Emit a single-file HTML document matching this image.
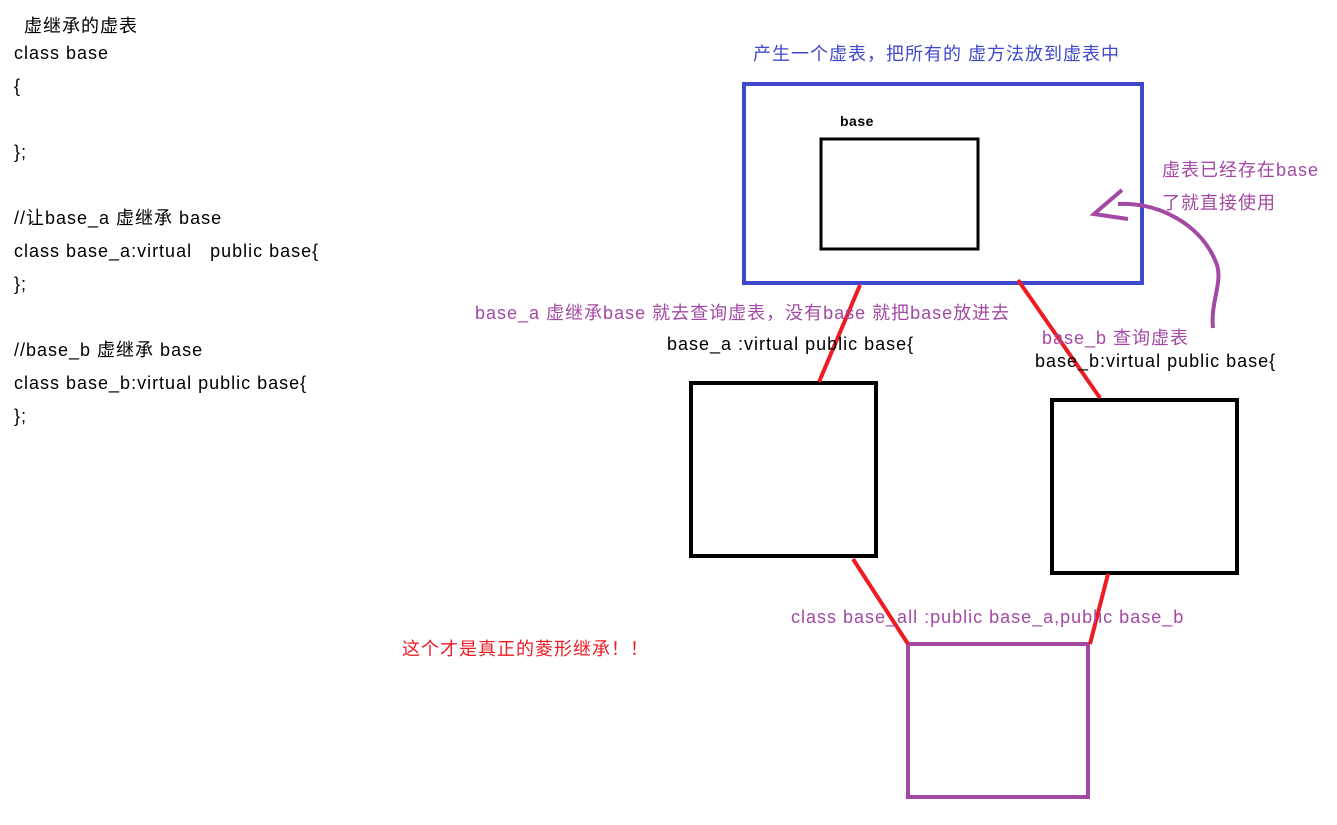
<!DOCTYPE html>
<html><head><meta charset="utf-8"><style>
body{margin:0;width:1337px;height:825px;background:#fff;position:relative;overflow:hidden;font-family:"Liberation Sans","Noto Sans CJK SC",sans-serif;font-size:18px;}
.t{position:absolute;white-space:nowrap;line-height:22px;letter-spacing:1px;}
.p{color:#a349a4}.b{color:#3f48cc}
</style></head><body>
<div class="t" style="left:24px;top:15px">虚继承的虚表</div>
<div class="t" style="left:14px;top:42px">class base</div>
<div class="t" style="left:14px;top:75px">{</div>
<div class="t" style="left:14px;top:141px">};</div>
<div class="t" style="left:14px;top:207px">//让base_a 虚继承 base</div>
<div class="t" style="left:14px;top:240px">class base_a:virtual&nbsp;&nbsp;&nbsp;public base{</div>
<div class="t" style="left:14px;top:273px">};</div>
<div class="t" style="left:14px;top:339px">//base_b 虚继承 base</div>
<div class="t" style="left:14px;top:372px">class base_b:virtual public base{</div>
<div class="t" style="left:14px;top:405px">};</div>

<svg width="1337" height="825" style="position:absolute;left:0;top:0">
<rect x="744" y="84" width="398" height="199" fill="none" stroke="#3f48cc" stroke-width="4"/>
<rect x="821" y="139" width="157" height="110" fill="none" stroke="#000" stroke-width="3"/>
<rect x="691" y="383" width="185" height="173" fill="none" stroke="#000" stroke-width="4"/>
<rect x="1052" y="400" width="185" height="173" fill="none" stroke="#000" stroke-width="4"/>
<rect x="908" y="644" width="180" height="153" fill="none" stroke="#a349a4" stroke-width="4"/>
<g stroke="#ed1c24" stroke-width="4" fill="none">
<line x1="860" y1="285" x2="819" y2="382"/>
<line x1="1018" y1="280" x2="1100" y2="398"/>
<line x1="853" y1="559" x2="908" y2="644"/>
<line x1="1108" y1="574" x2="1090" y2="644"/>
</g>
<g stroke="#a349a4" stroke-width="4" fill="none">
<path d="M1213,328 C1210,300 1225,280 1215,260 C1200,225 1160,202 1118,204"/>
<path d="M1122,190 L1094,214 L1128,219"/>
</g>
</svg>

<div class="t" style="left:840px;top:110px;font-size:14px;font-weight:bold;letter-spacing:0.5px">base</div>
<div class="t b" style="left:753px;top:43px">产生一个虚表，把所有的 虚方法放到虚表中</div>
<div class="t p" style="left:1162px;top:159px">虚表已经存在base</div>
<div class="t p" style="left:1162px;top:192px">了就直接使用</div>
<div class="t p" style="left:475px;top:302px">base_a 虚继承base 就去查询虚表，没有base 就把base放进去</div>
<div class="t" style="left:667px;top:333px">base_a :virtual public base{</div>
<div class="t p" style="left:1042px;top:327px">base_b 查询虚表</div>
<div class="t" style="left:1035px;top:350px">base_b:virtual public base{</div>
<div class="t p" style="left:791px;top:606px">class base_all :public base_a,public base_b</div>
<div class="t" style="left:402px;top:638px;color:#ed1c24;font-size:18px">这个才是真正的菱形继承！！</div>
</body></html>
